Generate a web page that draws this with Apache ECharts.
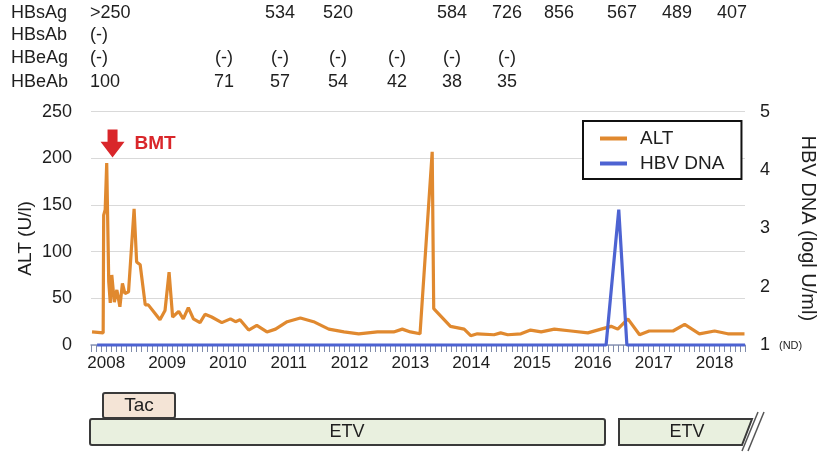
<!DOCTYPE html>
<html>
<head>
<meta charset="utf-8">
<script src="https://cdn.jsdelivr.net/npm/echarts@6/dist/echarts.min.js"></script>
<style>html,body{margin:0;padding:0;background:#fff;}#c{width:819px;height:452px;}</style>
</head>
<body>
<div id="c"></div>
<script>
// months counted from January 2008 (0 = Jan 2008)
const altMonths = [-2.8,-0.6,-0.5,-0.2,0.1,0.5,0.8,1.1,1.6,2.1,2.7,3.2,3.7,4.4,4.7,5.5,6.0,6.7,7.7,8.3,9.6,10.6,11.6,12.4,13.1,14.3,15.2,16.2,17.2,18.5,19.5,20.8,22.8,24.5,25.5,26.4,28.1,29.7,31.7,33.4,35.7,38.3,40.9,43.9,46.9,49.8,53.5,56.7,58.4,60.0,61.9,64.3,64.6,67.9,70.6,71.9,73.2,76.5,77.8,79.2,81.8,83.7,85.8,88.4,91.7,95.0,97.6,99.6,100.9,102.9,105.2,107.1,111.8,114.1,117.0,120.0,122.6,125.9];
const altValues = [14,13,139,145,195,68,45,75,46,59,41,66,55,57,55,146,89,86,43,43,34,27,37,78,30,36,28,40,28,24,33,30,24,28,25,27,16,21,14,17,25,29,25,17,14,12,14,14,17,14,12,207,39,20,17,10,12,11,13,11,12,16,14,17,15,13,17,20,17,28,11,15,15,22,12,15,12,12];
const hbvMonths = [-1.8, 98.6, 101.1, 102.7, 126];
const hbvValues = [1, 1, 3.32, 1, 1];
const yearLabelStart = 2008;
const altTicks = [0, 50, 100, 150, 200, 250];
const hbvTicks = [1, 2, 3, 4, 5];
const bmtMark = { month: 1.25, value: 216, label: 'BMT' };

// serology table
const tableRowNames = ['HBsAg', 'HBsAb', 'HBeAg', 'HBeAb'];
const hbsagRow = ['>250', null, '534', '520', null, '584', '726', '856', '567', '489', '407'];
const hbsabRow = ['(-)'];
const hbeagRow = ['(-)', '(-)', '(-)', '(-)', '(-)', '(-)', '(-)'];
const hbeabRow = ['100', '71', '57', '54', '42', '38', '35'];
const tableRowsData = [hbsagRow, hbsabRow, hbeagRow, hbeabRow];

// treatment bars
const treatments = ['Tac', 'ETV', 'ETV'];

// ---- layout (not data) ----
const colX = [90, 224, 280, 338, 397, 452, 507, 559, 622, 677, 732];
const rowY = [13, 35, 58, 82];
const txt = '#1e1e1e';
const font = 'Liberation Sans, Arial, sans-serif';
const orange = '#e0892f';
const blue = '#4d63d2';
const red = '#d9262a';

const graphics = [];
tableRowNames.forEach((name, r) => {
  graphics.push({ type: 'text', x: 11, y: rowY[r], style: { text: name, fill: txt, font: '18px ' + font, textAlign: 'left', textVerticalAlign: 'middle' } });
  tableRowsData[r].forEach((v, c) => {
    if (v == null) return;
    graphics.push({ type: 'text', x: colX[c], y: rowY[r], style: { text: v, fill: txt, font: '18px ' + font, textAlign: c === 0 ? 'left' : 'center', textVerticalAlign: 'middle' } });
  });
});
// treatment bars
graphics.push({ type: 'rect', shape: { x: 90, y: 419, width: 515, height: 26, r: 2 }, style: { fill: '#e9f0df', stroke: '#3a3a3a', lineWidth: 2 } });
graphics.push({ type: 'text', x: 347, y: 432, style: { text: treatments[1], fill: txt, font: '18px ' + font, textAlign: 'center', textVerticalAlign: 'middle' } });
graphics.push({ type: 'rect', shape: { x: 103, y: 393, width: 72, height: 25, r: 2 }, style: { fill: '#f4e4d6', stroke: '#3a3a3a', lineWidth: 2 } });
graphics.push({ type: 'text', x: 139, y: 405.5, style: { text: treatments[0], fill: txt, font: '19px ' + font, textAlign: 'center', textVerticalAlign: 'middle' } });
graphics.push({ type: 'polygon', shape: { points: [[619, 419], [752, 419], [742, 445], [619, 445]] }, style: { fill: '#e9f0df', stroke: '#3a3a3a', lineWidth: 2 } });
graphics.push({ type: 'text', x: 687, y: 432, style: { text: treatments[2], fill: txt, font: '18px ' + font, textAlign: 'center', textVerticalAlign: 'middle' } });
graphics.push({ type: 'line', shape: { x1: 758, y1: 412, x2: 742, y2: 451 }, style: { stroke: '#555', lineWidth: 1.5 } });
graphics.push({ type: 'line', shape: { x1: 764, y1: 412, x2: 748, y2: 451 }, style: { stroke: '#555', lineWidth: 1.5 } });

const chart = echarts.init(document.getElementById('c'), null, { renderer: 'canvas' });
chart.setOption({
  animation: false,
  backgroundColor: '#fff',
  textStyle: { fontFamily: font },
  grid: { left: 91, right: 74, top: 111.7, bottom: 107, containLabel: false, outerBoundsMode: 'none' },
  legend: {
    orient: 'vertical', left: 583, top: 121,
    padding: [8, 17, 6, 17], itemGap: 6,
    borderColor: '#111', borderWidth: 2, backgroundColor: '#fff',
    icon: 'rect', itemWidth: 27, itemHeight: 4,
    textStyle: { fontSize: 19, color: txt, padding: [0, 0, 0, 8] },
    data: ['ALT', 'HBV DNA']
  },
  xAxis: {
    type: 'value', min: -3, max: 126, interval: 1,
    axisLine: { show: true, lineStyle: { color: '#8a96b8', width: 1.5 } },
    axisTick: { show: true, length: 7, lineStyle: { color: '#7f8bab', width: 1 } },
    axisLabel: {
      showMinLabel: true, showMaxLabel: true, margin: 10,
      color: txt, fontSize: 17,
      formatter: v => (Math.round(v) % 12 === 0 ? String(yearLabelStart + Math.round(v) / 12) : '')
    },
    splitLine: { show: false }
  },
  yAxis: [
    {
      type: 'value', min: altTicks[0], max: altTicks[altTicks.length - 1], interval: altTicks[1] - altTicks[0],
      name: 'ALT (U/l)', nameLocation: 'middle', nameGap: 56, nameRotate: 90, nameMoveOverlap: false,
      nameTextStyle: { fontSize: 19, color: txt, padding: [0, 0, 0, -20] },
      axisLine: { show: false }, axisTick: { show: false },
      axisLabel: { color: txt, fontSize: 18, margin: 19 },
      splitLine: { lineStyle: { color: '#d9d9d9', width: 1 } }
    },
    {
      type: 'value', min: hbvTicks[0], max: hbvTicks[hbvTicks.length - 1], interval: 1,
      name: 'HBV DNA (logl U/ml)', nameLocation: 'middle', nameGap: 53, nameRotate: -90, nameMoveOverlap: false,
      nameTextStyle: { fontSize: 20, color: txt },
      axisLine: { show: false }, axisTick: { show: false },
      axisLabel: {
        color: txt, fontSize: 18, margin: 15,
        formatter: v => (v === 1 ? '1 {nd|(ND)}' : String(v)),
        rich: { nd: { fontSize: 11, color: txt, padding: [2, 0, 0, 4] } }
      },
      splitLine: { show: false }
    }
  ],
  series: [
    {
      name: 'ALT', type: 'line', yAxisIndex: 0, symbol: 'none', clip: false,
      color: orange, lineStyle: { color: orange, width: 3.2 },
      data: altMonths.map((m, i) => [m, altValues[i]]),
      markPoint: {
        symbol: 'path://M7,0 L17,0 L17,12 L24,12 L12,27 L0,12 L7,12 Z',
        symbolSize: [24, 28], symbolKeepAspect: false,
        itemStyle: { color: red },
        label: { show: true, position: 'right', distance: 10, formatter: bmtMark.label, color: red, fontSize: 19, fontWeight: 'bold' },
        data: [{ coord: [bmtMark.month, bmtMark.value] }]
      }
    },
    {
      name: 'HBV DNA', type: 'line', yAxisIndex: 1, symbol: 'none', clip: false,
      color: blue, lineStyle: { color: blue, width: 3.2 },
      data: hbvMonths.map((m, i) => [m, hbvValues[i]])
    }
  ],
  graphic: { elements: graphics }
});
</script>
</body>
</html>
